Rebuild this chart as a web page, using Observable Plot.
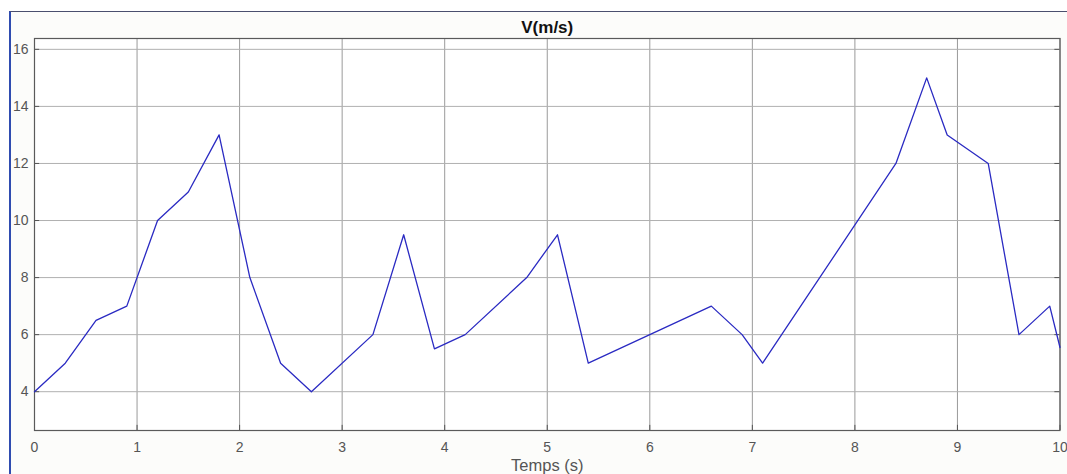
<!DOCTYPE html>
<html>
<head>
<meta charset="utf-8">
<script src="https://cdn.jsdelivr.net/npm/d3@7"></script>
<script src="https://cdn.jsdelivr.net/npm/@observablehq/plot@0.6"></script>
<style>
  html, body { margin: 0; padding: 0; background: #ffffff; }
  #wrap { position: relative; width: 1067px; height: 474px; overflow: hidden; }
  #border { position: absolute; left: 9px; top: 11px; right: 0; bottom: 0;
            border-left: 2px solid #2f4cb0; border-top: 1.5px solid #4a4f6e; background: #fcfcfa; }
  #chart { position: absolute; left: 0; top: 0; }
  #chart svg { background: transparent !important; }
</style>
</head>
<body>
<div id="wrap"><div id="border"></div><div id="chart"></div></div>
<script>
const temps = [0, 0.3, 0.6, 0.9, 1.2, 1.5, 1.8, 2.1, 2.4, 2.7, 3.3, 3.6, 3.9, 4.2, 4.8, 5.1, 5.4, 6.6, 6.9, 7.1, 8.4, 8.7, 8.9, 9.3, 9.6, 9.9, 10];
const vitesse = [4, 5, 6.5, 7, 10, 11, 13, 8, 5, 4, 6, 9.5, 5.5, 6, 8, 9.5, 5, 7, 6, 5, 12, 15, 13, 12, 6, 7, 5.55];
const xTicks = [0, 1, 2, 3, 4, 5, 6, 7, 8, 9, 10];
const yTicks = [4, 6, 8, 10, 12, 14, 16];
const titre = "V(m/s)";
const xLabel = "Temps (s)";

const data = temps.map((t, i) => ({t, v: vitesse[i]}));
const yMin = 2.64, yMax = 16.38;

const chart = Plot.plot({
  width: 1067,
  height: 474,
  marginLeft: 34,
  marginRight: 7.5,
  marginTop: 38,
  marginBottom: 44,
  style: {background: "transparent", fontFamily: "'Liberation Sans', Arial, sans-serif", color: "#4d4d4d"},
  x: {domain: [0, 10], axis: null},
  y: {domain: [yMin, yMax], axis: null},
  marks: [
    Plot.frame({fill: "white", stroke: "none"}),
    Plot.gridX(xTicks, {stroke: "#9a9a9a", strokeOpacity: 1, strokeWidth: 1}),
    Plot.gridY(yTicks, {stroke: "#b0b0b0", strokeOpacity: 1, strokeWidth: 1}),
    Plot.text(xTicks, {x: d => d, frameAnchor: "bottom", lineAnchor: "middle", dy: 17, text: d => String(d), fontSize: 14, fill: "#555"}),
    Plot.text(yTicks, {y: d => d, frameAnchor: "left", textAnchor: "end", dx: -6, text: d => String(d), fontSize: 14, fill: "#555"}),
    Plot.ruleX(xTicks, {x: d => d, y1: yMin, y2: yMin + 0.18, stroke: "#555"}),
    Plot.ruleY(yTicks, {y: d => d, x1: 0, x2: 0.05, stroke: "#555"}),
    Plot.ruleY(yTicks, {y: d => d, x1: 9.95, x2: 10, stroke: "#555"}),
    Plot.frame({stroke: "#5a5a5a", strokeWidth: 1.2}),
    Plot.line(data, {x: "t", y: "v", stroke: "#2a2ac2", strokeWidth: 1.3}),
    Plot.text([titre], {frameAnchor: "top", lineAnchor: "middle", dy: -11, fontWeight: "bold", fontSize: 17, fill: "#111"}),
    Plot.text([xLabel], {frameAnchor: "bottom", lineAnchor: "middle", dy: 35, fontSize: 16.5, fill: "#555"})
  ]
});
document.getElementById("chart").appendChild(chart);
</script>
</body>
</html>
